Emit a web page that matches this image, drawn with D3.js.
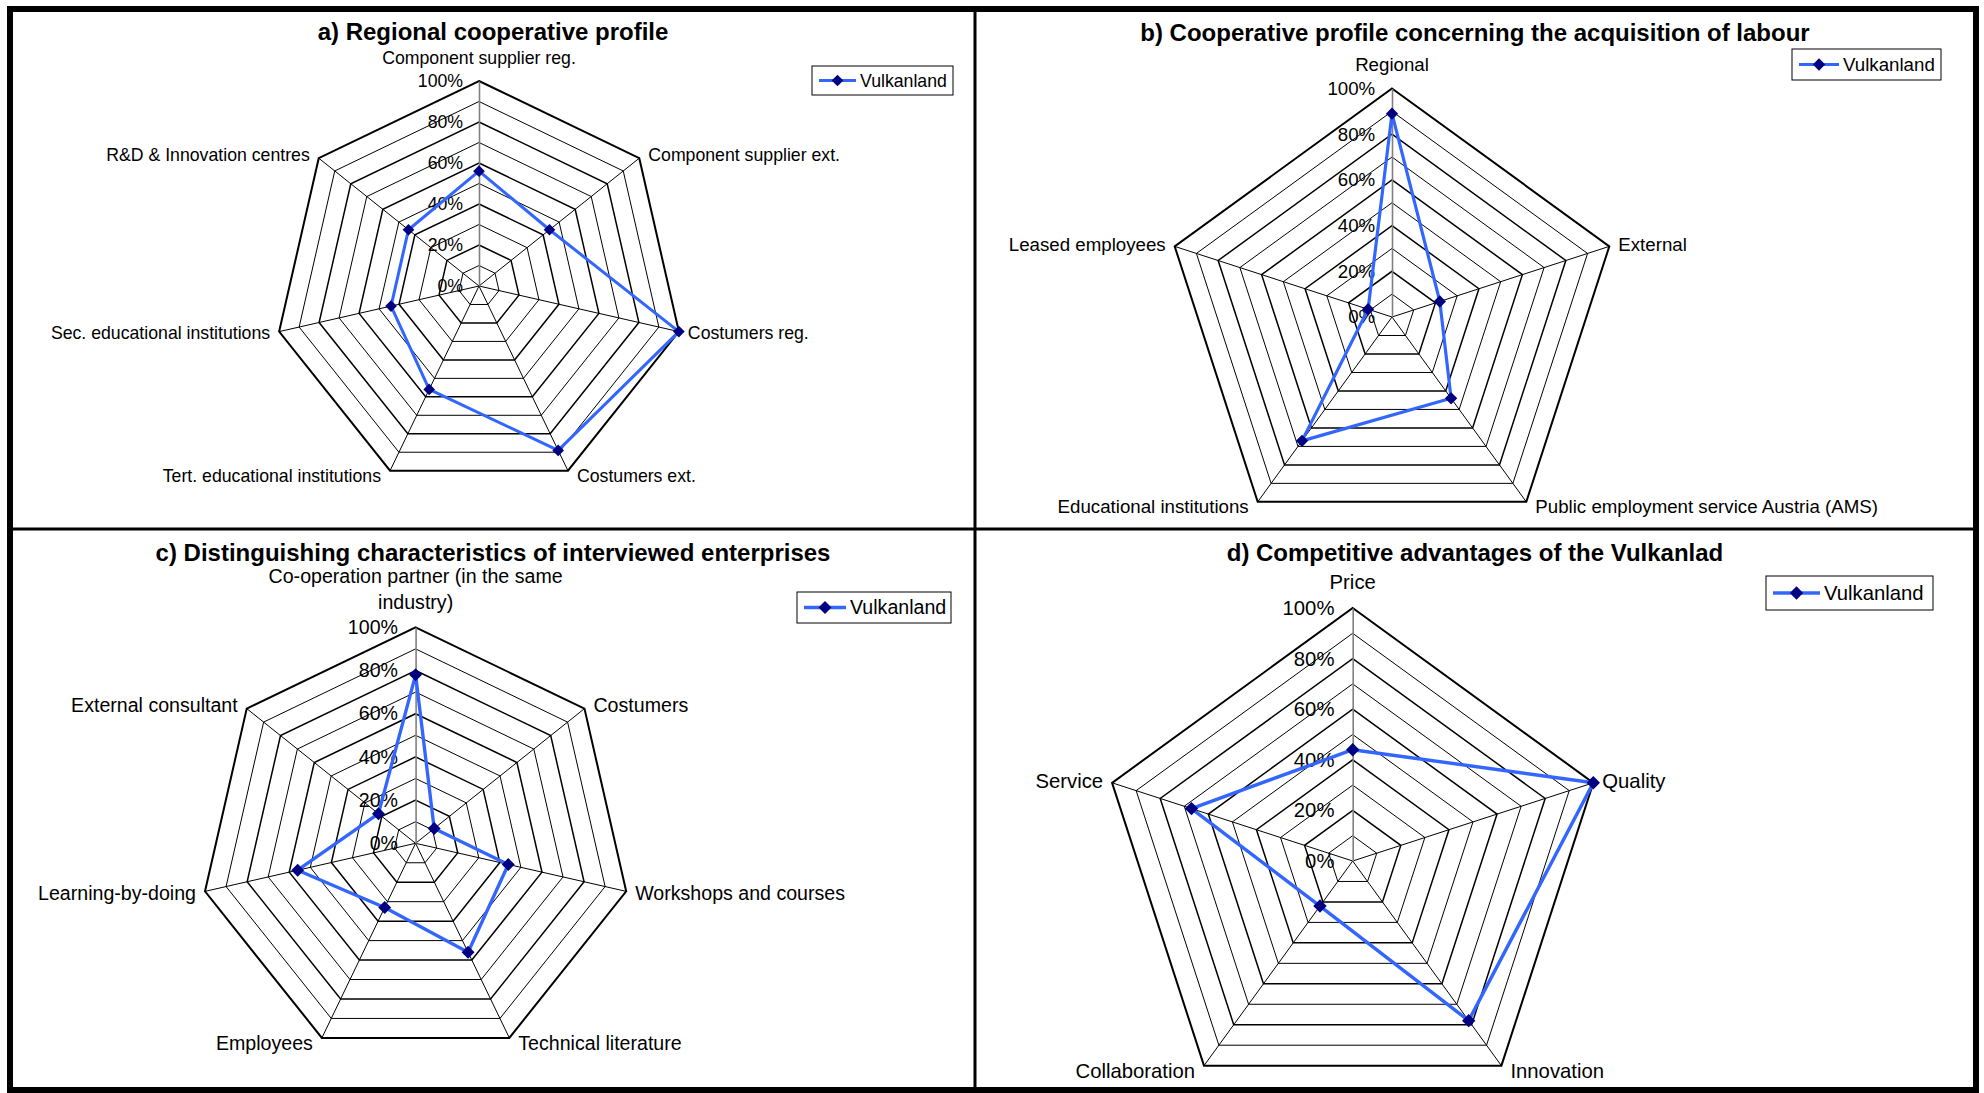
<!DOCTYPE html>
<html>
<head>
<meta charset="utf-8">
<script src="https://cdn.jsdelivr.net/npm/d3@7"></script>
<style>
  html, body { margin: 0; padding: 0; background: #fff; }
  svg { display: block; font-family: "Liberation Sans", Arial, Helvetica, sans-serif; }
</style>
</head>
<body>
<svg id="chart" width="1984" height="1093"></svg>
<script>
// ---------- data ----------
const seriesName = "Vulkanland";
const tickValues = [0, 20, 40, 60, 80, 100];
const ringValues = [10, 20, 30, 40, 50, 60, 70, 80, 90, 100];

const titleA = "a) Regional cooperative profile";
const categoriesA = ["Component supplier reg.", "Component supplier ext.", "Costumers reg.", "Costumers ext.",
                     "Tert. educational institutions", "Sec. educational institutions", "R&D & Innovation centres"];
const valuesA = [56, 44, 100, 89, 56, 44, 44];

const titleB = "b) Cooperative profile concerning the acquisition of labour";
const categoriesB = ["Regional", "External", "Public employment service Austria (AMS)", "Educational institutions", "Leased employees"];
const valuesB = [89, 22, 44, 67, 11];

const titleC = "c) Distinguishing characteristics of interviewed enterprises";
const categoriesC = ["Co-operation partner (in the same industry)", "Costumers", "Workshops and courses", "Technical literature",
                     "Employees", "Learning-by-doing", "External consultant"];
const valuesC = [78, 11, 44, 56, 33, 56, 22];

const titleD = "d) Competitive advantages of the Vulkanlad";
const categoriesD = ["Price", "Quality", "Innovation", "Collaboration", "Service"];
const valuesD = [44, 100, 78, 22, 67];

// ---------- layout ----------
const panels = [
  { title: titleA, categories: categoriesA, values: valuesA,
    cx: 479, cy: 286, r: 205, fs: 17.7, titleX: 493, titleY: 40,
    legend: { x: 812, y: 66, w: 141, h: 29, textX: 860 } },
  { title: titleB, categories: categoriesB, values: valuesB,
    cx: 1392, cy: 317, r: 228.5, fs: 18.7, titleX: 1475, titleY: 41,
    legend: { x: 1792, y: 49, w: 149, h: 31, textX: 1843 } },
  { title: titleC, categories: categoriesC, values: valuesC,
    cx: 415.6, cy: 843.3, r: 216, fs: 19.6, titleX: 493, titleY: 561,
    legend: { x: 797, y: 592, w: 154, h: 31, textX: 850 } },
  { title: titleD, categories: categoriesD, values: valuesD,
    cx: 1352.7, cy: 861, r: 253, fs: 20.3, titleX: 1475, titleY: 561,
    legend: { x: 1766, y: 576, w: 167, h: 34, textX: 1824 } }
];

const lineColor = "#3366ff";
const markerColor = "#000080";
const svg = d3.select("#chart");

// greedy word wrap measured with the live font
function wrapLines(textSel, str, maxW) {
  const words = str.split(" ");
  const lines = [];
  let line = [];
  const probe = textSel.append("tspan");
  words.forEach(w => {
    line.push(w);
    probe.text(line.join(" "));
    if (probe.node().getComputedTextLength() > maxW && line.length > 1) {
      line.pop();
      lines.push(line.join(" "));
      line = [w];
    }
  });
  lines.push(line.join(" "));
  probe.remove();
  return lines;
}

function drawRadar(p) {
  const n = p.categories.length;
  const idx = d3.range(n);
  const angle = d3.scaleLinear().domain([0, n]).range([0, 2 * Math.PI]);
  const radius = d3.scaleLinear().domain([0, 100]).range([0, p.r]);
  const g = svg.append("g").attr("transform", `translate(${p.cx},${p.cy})`);

  // title
  svg.append("text")
    .attr("x", p.titleX).attr("y", p.titleY)
    .attr("text-anchor", "middle")
    .attr("font-size", 24).attr("font-weight", "bold")
    .text(p.title);

  // concentric grid polygons
  const ring = v => d3.lineRadial()
      .angle(i => angle(i))
      .radius(() => radius(v))
      .curve(d3.curveLinearClosed)(idx);
  g.append("g").selectAll("path").data(ringValues).join("path")
    .attr("d", ring)
    .attr("fill", "none")
    .attr("stroke", "#000")
    .attr("stroke-width", v => v === 100 ? 2 : (v % 20 === 0 ? 1.5 : 1));

  // spokes
  g.append("g").selectAll("line").data(idx.slice(1)).join("line")
    .attr("x1", 0).attr("y1", 0)
    .attr("x2", i => radius(100) * Math.sin(angle(i)))
    .attr("y2", i => -radius(100) * Math.cos(angle(i)))
    .attr("stroke", "#000").attr("stroke-width", 1);

  // value axis along the first spoke
  const yScale = d3.scaleLinear().domain([0, 100]).range([0, -p.r]);
  const ax = g.append("g")
    .call(d3.axisLeft(yScale).tickValues(tickValues).tickFormat(d => d + "%")
      .tickSize(0).tickPadding(p.fs * 0.9));
  ax.attr("font-family", null).attr("font-size", p.fs);
  ax.select(".domain").attr("stroke", "#808080").attr("stroke-width", 1.6);
  ax.selectAll("text").attr("fill", "#000");

  // series polygon
  const series = d3.lineRadial()
    .angle((d, i) => angle(i))
    .radius(d => radius(d))
    .curve(d3.curveLinearClosed);
  g.append("path")
    .attr("d", series(p.values))
    .attr("fill", "none")
    .attr("stroke", lineColor)
    .attr("stroke-width", p.fs * 0.17)
    .attr("stroke-linejoin", "round");

  // markers
  const diamond = d3.symbol().type(d3.symbolDiamond2 || d3.symbolSquare).size(Math.pow(p.fs * 0.33 / 0.62625, 2));
  g.append("g").selectAll("path").data(p.values).join("path")
    .attr("d", diamond)
    .attr("transform", (d, i) => `translate(${radius(d) * Math.sin(angle(i))},${-radius(d) * Math.cos(angle(i))})`)
    .attr("fill", markerColor);

  // category labels
  const gap = 9;
  p.categories.forEach((c, i) => {
    const a = angle(i);
    const s = Math.sin(a), co = Math.cos(a);
    const vx = radius(100) * s, vy = -radius(100) * co;
    const t = g.append("text").attr("font-size", p.fs).attr("fill", "#000");
    if (Math.abs(s) < 0.05) {
      t.attr("text-anchor", "middle");
      const lines = wrapLines(t, c, 300);
      const lh = p.fs * 1.3;
      const base = vy - p.fs * 0.95;
      lines.forEach((ln, k) => {
        t.append("tspan").attr("x", 0)
          .attr("y", base - (lines.length - 1 - k) * lh)
          .text(ln);
      });
    } else {
      t.attr("text-anchor", s > 0 ? "start" : "end")
        .attr("x", vx + (s > 0 ? gap : -gap))
        .attr("y", vy + p.fs * 0.35 - 6 * co)
        .text(c);
    }
  });

  // legend
  const L = p.legend;
  const lg = svg.append("g");
  lg.append("rect").attr("x", L.x).attr("y", L.y).attr("width", L.w).attr("height", L.h)
    .attr("fill", "#fff").attr("stroke", "#000").attr("stroke-width", 1);
  const my = L.y + L.h / 2;
  lg.append("line").attr("x1", L.x + 7).attr("x2", L.textX - 4).attr("y1", my).attr("y2", my)
    .attr("stroke", lineColor).attr("stroke-width", p.fs * 0.17);
  lg.append("path").attr("d", diamond)
    .attr("transform", `translate(${(L.x + 7 + L.textX - 4) / 2},${my})`)
    .attr("fill", markerColor);
  lg.append("text").attr("x", L.textX).attr("y", my + p.fs * 0.35)
    .attr("font-size", p.fs).text(seriesName);
}

panels.forEach(drawRadar);

// panel frame and dividers
svg.append("rect").attr("x", 10).attr("y", 9).attr("width", 1966).attr("height", 1081)
  .attr("fill", "none").attr("stroke", "#000").attr("stroke-width", 6);
svg.append("line").attr("x1", 975).attr("x2", 975).attr("y1", 9).attr("y2", 1090)
  .attr("stroke", "#000").attr("stroke-width", 3);
svg.append("line").attr("x1", 10).attr("x2", 1976).attr("y1", 529).attr("y2", 529)
  .attr("stroke", "#000").attr("stroke-width", 3);
</script>
</body>
</html>
